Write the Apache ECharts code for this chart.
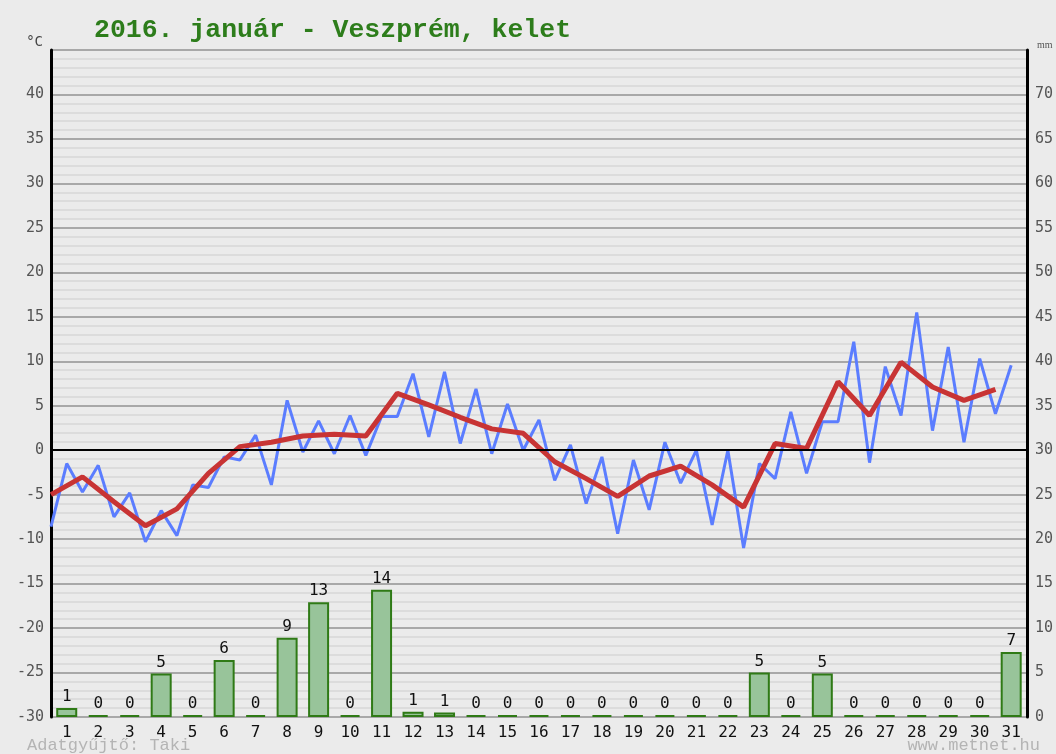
<!DOCTYPE html>
<html>
<head>
<meta charset="UTF-8">
<title>2016. január - Veszprém, kelet</title>
<script src="https://cdn.jsdelivr.net/npm/echarts@6/dist/echarts.min.js"></script>
<style>
	html, body { margin: 0; padding: 0; background: #ebebeb; }
	#chart { width: 1056px; height: 754px; }
</style>
</head>
<body>
<div id="chart"></div>
<script>
// napok
var days = ['1','2','3','4','5','6','7','8','9','10','11','12','13','14','15','16',
	'17','18','19','20','21','22','23','24','25','26','27','28','29','30','31'];
// csapadék (mm)
var precip = [1.0, 0, 0, 4.9, 0, 6.4, 0, 8.9, 12.9, 0, 14.3, 0.6, 0.5, 0, 0, 0,
	0, 0, 0, 0, 0, 0, 5.0, 0, 4.9, 0, 0, 0, 0, 0, 7.3];
// hőmérséklet, félnaponta (°C)
var tempHalfDay = [-8.6, -1.5, -4.7, -1.7, -7.5, -4.8, -10.3, -6.8, -9.6, -3.9,
	-4.2, -0.75, -1.1, 1.7, -3.9, 5.6, -0.2, 3.3, -0.4, 3.9,
	-0.6, 3.8, 3.8, 8.6, 1.5, 8.8, 0.75, 6.9, -0.4, 5.2,
	0, 3.4, -3.4, 0.6, -6.0, -0.75, -9.4, -1.1, -6.7, 0.9,
	-3.7, 0, -8.4, 0, -11.0, -1.5, -3.2, 4.3, -2.6, 3.2,
	3.2, 12.2, -1.4, 9.4, 3.9, 15.5, 2.2, 11.6, 0.9, 10.3,
	4.1, 9.55];
// napi átlag (°C)
var tempDaily = [-5.0, -3.0, -5.8, -8.5, -6.6, -2.6, 0.4, 0.9, 1.6, 1.8,
	1.6, 6.4, 5.1, 3.7, 2.4, 1.9, -1.3, -3.2, -5.2, -2.9,
	-1.8, -3.9, -6.4, 0.75, 0.2, 7.7, 3.9, 9.9, 7.1, 5.6, 6.85];

var mono = '"DejaVu Sans Mono", monospace';

var halfData = tempHalfDay.map(function (v, i) { return [i * 0.5, v]; });
var dailyData = tempDaily.map(function (v, i) { return [i, v]; });

var chart = echarts.init(document.getElementById('chart'));
chart.setOption({
	backgroundColor: '#ebebeb',
	animation: false,
	grid: { left: 51, right: 23, top: 50, bottom: 37 },
	graphic: [{
		type: 'text', left: 94, top: 17,
		style: { text: '2016. január - Veszprém, kelet', fill: '#2d7d1b',
			font: 'bold 26.5px "Liberation Mono", monospace' }
	}, {
		type: 'text', left: 27, top: 737,
		style: { text: 'Adatgyűjtő: Taki', fill: '#b4b4b4', font: '17px "Liberation Mono", monospace' }
	}, {
		type: 'text', right: 16, top: 737,
		style: { text: 'www.metnet.hu', fill: '#b4b4b4', font: '17px "Liberation Mono", monospace' }
	}],
	xAxis: [{
		type: 'category',
		data: days,
		axisLine: { lineStyle: { color: '#000', width: 2 } },
		axisTick: { show: false },
		axisLabel: { color: '#111', fontSize: 16, fontFamily: mono, margin: 8 }
	}, {
		type: 'value', min: 0, max: 31, show: false
	}],
	yAxis: [{
		type: 'value', min: -30, max: 45, interval: 5,
		name: '°C', nameLocation: 'end', nameGap: 1,
		nameTextStyle: { color: '#444', fontSize: 14, fontFamily: mono, align: 'right', padding: [0, 8, 0, 0] },
		axisLine: { show: true, lineStyle: { color: '#000', width: 3 } },
		axisTick: { show: false },
		axisLabel: { color: '#555', fontSize: 15, fontFamily: mono, margin: 7,
			formatter: function (v) { return v === 45 ? '' : v; } },
		splitLine: { lineStyle: { color: '#a8a8a8', width: 2 } },
		minorTick: { show: false, splitNumber: 5 },
		minorSplitLine: { show: true, lineStyle: { color: '#dcdcdc', width: 2 } }
	}, {
		type: 'value', min: 0, max: 75, interval: 5,
		name: 'mm', nameLocation: 'end', nameGap: 0,
		nameTextStyle: { color: '#555', fontSize: 10, fontFamily: 'serif', align: 'left', padding: [0, 0, 0, 10] },
		axisLine: { show: true, lineStyle: { color: '#000', width: 3 } },
		axisTick: { show: false },
		axisLabel: { color: '#555', fontSize: 15, fontFamily: mono, margin: 8,
			formatter: function (v) { return v === 75 ? '' : v; } },
		splitLine: { show: false }
	}],
	series: [{
		type: 'bar',
		xAxisIndex: 0, yAxisIndex: 1,
		data: precip,
		barWidth: 21,
		barMinHeight: 2,
		itemStyle: { color: '#98c49a', borderColor: '#2f7a16', borderWidth: 2 },
		label: { show: true, position: 'top', distance: 3, color: '#111', fontSize: 16, fontFamily: mono,
			formatter: function (p) { return Math.round(p.value); } },
		z: 2
	}, {
		type: 'line',
		xAxisIndex: 1, yAxisIndex: 0,
		data: halfData,
		symbol: 'none',
		lineStyle: { color: '#5b7dff', width: 3 },
		markLine: {
			silent: true, symbol: 'none', label: { show: false },
			lineStyle: { color: '#000', width: 2, type: 'solid' },
			data: [{ yAxis: 0 }]
		},
		z: 3
	}, {
		type: 'line',
		xAxisIndex: 1, yAxisIndex: 0,
		data: dailyData,
		symbol: 'none',
		lineStyle: { color: '#c83434', width: 5 },
		z: 4
	}]
});
</script>
</body>
</html>
